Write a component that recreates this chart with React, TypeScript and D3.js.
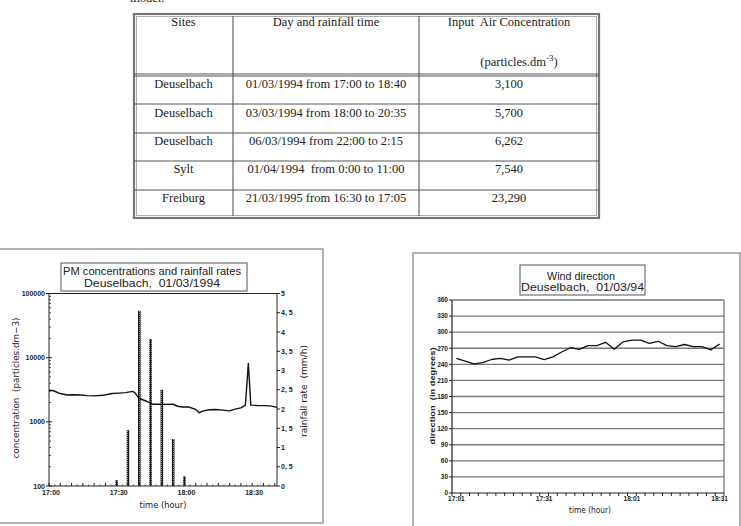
import React from 'react';
import * as d3 from 'd3';

// ---------- Table data ----------
const tableHeaders = ['Sites', 'Day and rainfall time', 'Input  Air Concentration'];
const sites = ['Deuselbach', 'Deuselbach', 'Deuselbach', 'Sylt', 'Freiburg'];
const rainfallPeriods = [
  '01/03/1994 from 17:00 to 18:40',
  '03/03/1994 from 18:00 to 20:35',
  '06/03/1994 from 22:00 to 2:15',
  '01/04/1994  from 0:00 to 11:00',
  '21/03/1995 from 16:30 to 17:05',
];
const airConcentrations = ['3,100', '5,700', '6,262', '7,540', '23,290'];

// ---------- Left chart data (minutes after 17:00) ----------
const concMinutes = [0, 2, 5, 8, 11, 14, 17, 20, 24, 28, 31, 34, 37, 38, 40, 43, 46, 49, 52, 55, 57, 59, 62, 65, 66.5, 68, 71, 74, 77, 80, 82, 85, 87, 88.3, 89.4, 92, 95, 98, 101];
const concValues = [3100, 3050, 2760, 2620, 2640, 2620, 2560, 2540, 2590, 2760, 2800, 2850, 2980, 2850, 2310, 2110, 1880, 1880, 1870, 1880, 1750, 1700, 1700, 1560, 1380, 1470, 1540, 1560, 1520, 1480, 1560, 1650, 1820, 8100, 1820, 1800, 1790, 1770, 1680];
const rainMinutes = [30, 35, 40, 45, 50, 55, 60];
const rainValues = [0.15, 1.45, 4.55, 3.82, 2.5, 1.22, 0.25];
const timeTickMinutes = [0, 30, 60, 90];
const timeTickLabels = ['17:00', '17:30', '18:00', '18:30'];
const concTicks = [100, 1000, 10000, 100000];
const concTickLabels = ['100', '1000', '10000', '100000'];
const rainTicks = [0, 0.5, 1, 1.5, 2, 2.5, 3, 3.5, 4, 4.5, 5];
const rainTickLabels = ['0', '0, 5', '1', '1, 5', '2', '2, 5', '3', '3, 5', '4', '4, 5', '5'];

// ---------- Right chart data ----------
const windTimes = ['17:01', '17:04', '17:07', '17:10', '17:13', '17:16', '17:19', '17:22', '17:25', '17:28', '17:31', '17:34', '17:37', '17:40', '17:43', '17:46', '17:49', '17:52', '17:55', '17:58', '18:01', '18:04', '18:07', '18:10', '18:13', '18:16', '18:19', '18:22', '18:25', '18:28', '18:31'];
const windValues = [251, 246, 241, 243, 249, 251, 248, 254, 254, 254, 249, 254, 263, 271, 268, 275, 275, 281, 268, 282, 285, 285, 279, 283, 275, 273, 277, 273, 273, 267, 278];
const windTicks = [0, 30, 60, 90, 120, 150, 180, 210, 240, 270, 300, 330, 360];
const windLabelTimes = ['17:01', '17:31', '18:01', '18:31'];

const SANS = 'Liberation Sans, Arial, sans-serif';

function Table() {
  const x0 = 134, x1 = 233, x2 = 419, x3 = 599;
  const top = 14, headBottom = 75;
  const rowLines = [104, 133, 161, 190];
  const bottom = 218;
  const baselines = [87.5, 116.5, 144.5, 173, 201.5];
  const cx = [(x0 + x1) / 2, (x1 + x2) / 2, (x2 + x3) / 2];
  const txt = { fontFamily: 'Liberation Serif, Times New Roman, serif', fontSize: 12.5, fill: '#222', whiteSpace: 'pre' as const };
  return (
    <g>
      <text x={130} y={2} style={txt}>model.</text>
      <rect x={x0} y={top} width={x3 - x0} height={bottom - top} fill="none" stroke="#777" strokeWidth={2.2} />
      <rect x={x0 + 2.5} y={top + 2.5} width={x3 - x0 - 5} height={bottom - top - 5} fill="none" stroke="#999" strokeWidth={0.8} />
      <line x1={x1} x2={x1} y1={top + 2} y2={bottom - 2} stroke="#444" strokeWidth={1} />
      <line x1={x2} x2={x2} y1={top + 2} y2={bottom - 2} stroke="#444" strokeWidth={1} />
      <line x1={x0} x2={x3} y1={headBottom - 1} y2={headBottom - 1} stroke="#555" strokeWidth={1} />
      <line x1={x0} x2={x3} y1={headBottom + 1} y2={headBottom + 1} stroke="#555" strokeWidth={1} />
      {rowLines.map((y, i) => (
        <line key={i} x1={x0} x2={x3} y1={y} y2={y} stroke="#555" strokeWidth={1} />
      ))}
      {tableHeaders.map((h, i) => (
        <text key={h} x={cx[i]} y={26} textAnchor="middle" style={txt}>{h}</text>
      ))}
      <text x={cx[2] + 10} y={65.5} textAnchor="middle" style={txt}>
        (particles.dm<tspan dy={-5} fontSize={9}>-3</tspan><tspan dy={5}>)</tspan>
      </text>
      {sites.map((s, i) => (
        <g key={i}>
          <text x={cx[0]} y={baselines[i]} textAnchor="middle" style={txt}>{s}</text>
          <text x={cx[1]} y={baselines[i]} textAnchor="middle" style={txt}>{rainfallPeriods[i]}</text>
          <text x={cx[2]} y={baselines[i]} textAnchor="middle" style={txt}>{airConcentrations[i]}</text>
        </g>
      ))}
    </g>
  );
}

function LeftChart() {
  const L = 49, R = 277, T = 293.5, B = 486;
  const x = d3.scaleLinear().domain([0, 101]).range([L, R]);
  const yC = d3.scaleLog().domain([100, 100000]).range([B, T]);
  const yR = d3.scaleLinear().domain([0, 5]).range([B, T]);
  const line = d3.line<number>().x((_, i) => x(concMinutes[i])).y(d => yC(d));
  const minor: number[] = [];
  for (let e = 100; e < 100000; e *= 10) for (let m = 2; m <= 9; m++) minor.push(e * m);
  const xTicks5 = d3.range(0, 101, 5);
  const xTicks25 = d3.range(2.5, 101, 5);
  const tick = { fontFamily: SANS, fontSize: 7, fontWeight: 700, fill: '#222' };
  const lab = { fontFamily: 'DejaVu Sans, sans-serif', fontSize: 9, fill: '#222' };
  return (
    <g>
      <defs>
        <pattern id="barDots" width={2} height={2} patternUnits="userSpaceOnUse">
          <rect width={2} height={2} fill="#1a1a1a" />
          <rect x={1} y={1} width={1} height={1} fill="#999" />
        </pattern>
      </defs>
      <rect x={-5} y={249} width={328} height={274} fill="none" stroke="#999" strokeWidth={1.5} />
      {/* title box */}
      <rect x={61} y={263} width={186} height={28} fill="#fff" stroke="#555" strokeWidth={1} />
      <text x={152} y={274.5} textAnchor="middle" textLength={178} lengthAdjust="spacingAndGlyphs" style={{ fontFamily: SANS, fontSize: 11, fill: '#222' }}>PM concentrations and rainfall rates</text>
      <text x={152} y={286.5} textAnchor="middle" textLength={136} lengthAdjust="spacingAndGlyphs" style={{ fontFamily: SANS, fontSize: 11, fill: '#222', whiteSpace: 'pre' }}>Deuselbach,  01/03/1994</text>
      {/* bars */}
      {rainValues.map((v, i) => (
        <rect key={i} x={x(rainMinutes[i]) - 1.3} y={yR(v)} width={2.6} height={B - yR(v)} fill="url(#barDots)" />
      ))}
      {/* axes */}
      <line x1={L} x2={L} y1={T} y2={B} stroke="#222" strokeWidth={1} />
      <line x1={R} x2={R} y1={T} y2={B} stroke="#222" strokeWidth={1} />
      <line x1={L} x2={R} y1={B} y2={B} stroke="#222" strokeWidth={1} />
      <line x1={L} x2={R} y1={T} y2={T} stroke="#222" strokeWidth={1} />
      {concTicks.map((t, i) => (
        <g key={t}>
          <line x1={L - 3} x2={L + 3} y1={yC(t)} y2={yC(t)} stroke="#222" />
          <text x={L - 4} y={yC(t) + 2.5} textAnchor="end" style={tick}>{concTickLabels[i]}</text>
        </g>
      ))}
      {minor.map(t => (
        <line key={t} x1={L} x2={L + 2} y1={yC(t)} y2={yC(t)} stroke="#222" strokeWidth={0.8} />
      ))}
      {rainTicks.map((t, i) => (
        <g key={t}>
          <line x1={R} x2={R + 3} y1={yR(t)} y2={yR(t)} stroke="#222" />
          <text x={R + 4} y={yR(t) + 2.5} style={tick}>{rainTickLabels[i]}</text>
        </g>
      ))}
      {xTicks5.map(t => (
        <line key={t} x1={x(t)} x2={x(t)} y1={B} y2={B - 3} stroke="#222" />
      ))}
      {xTicks25.map(t => (
        <line key={t} x1={x(t)} x2={x(t)} y1={B} y2={B - 1.5} stroke="#222" strokeWidth={0.8} />
      ))}
      {timeTickMinutes.map((t, i) => (
        <text key={t} x={x(t) + 2} y={494.5} textAnchor="middle" style={tick}>{timeTickLabels[i]}</text>
      ))}
      {/* concentration line */}
      <path d={line(concValues) || ''} fill="none" stroke="#111" strokeWidth={1.4} strokeLinejoin="round" />
      {/* axis labels */}
      <text x={163} y={508} textAnchor="middle" textLength={47} lengthAdjust="spacingAndGlyphs" style={lab}>time (hour)</text>
      <text transform="translate(19,388) rotate(-90)" textAnchor="middle" textLength={141} lengthAdjust="spacingAndGlyphs" style={{ ...lab, whiteSpace: 'pre' }}>concentration  (particles.dm−3)</text>
      <text transform="translate(307,391) rotate(-90)" textAnchor="middle" textLength={92} lengthAdjust="spacingAndGlyphs" style={{ ...lab, whiteSpace: 'pre' }}>rainfall rate  (mm/h)</text>
    </g>
  );
}

function RightChart() {
  const L = 452, R = 724, T = 300, B = 493;
  const x = d3.scalePoint<string>().domain(windTimes).range([L, R]).padding(0.5);
  const y = d3.scaleLinear().domain([0, 360]).range([B, T]);
  const step = x.step();
  const line = d3.line<number>().x((_, i) => x(windTimes[i]) as number).y(d => y(d));
  const tick = { fontFamily: SANS, fontSize: 6.5, fontWeight: 700, fill: '#222' };
  return (
    <g>
      <rect x={413} y={253} width={327} height={280} fill="none" stroke="#999" strokeWidth={1.5} />
      {/* gridlines */}
      {windTicks.filter(t => t > 0).map(t => (
        <line key={t} x1={L} x2={R} y1={y(t)} y2={y(t)} stroke="#777" strokeWidth={1.3} />
      ))}
      <line x1={R} x2={R} y1={T} y2={B} stroke="#777" strokeWidth={1.3} />
      {/* axes */}
      <line x1={L} x2={L} y1={T} y2={B} stroke="#222" strokeWidth={1.2} />
      <line x1={L} x2={R} y1={B} y2={B} stroke="#222" strokeWidth={1.2} />
      {windTicks.map(t => (
        <g key={t}>
          <line x1={L - 3} x2={L} y1={y(t)} y2={y(t)} stroke="#222" />
          <text x={L - 4} y={y(t) + 2.3} textAnchor="end" style={tick}>{t}</text>
        </g>
      ))}
      {windTimes.map((c, i) => (
        <line key={c} x1={L + step * i} x2={L + step * i} y1={B} y2={B + 3} stroke="#222" />
      ))}
      <line x1={R} x2={R} y1={B} y2={B + 3} stroke="#222" />
      {windLabelTimes.map(c => (
        <text key={c} x={x(c) as number} y={500.5} textAnchor="middle" style={tick}>{c}</text>
      ))}
      <path d={line(windValues) || ''} fill="none" stroke="#111" strokeWidth={1.3} strokeLinejoin="round" />
      {/* title box */}
      <rect x={520} y={265} width={125} height={30} fill="#fff" stroke="#555" strokeWidth={1} />
      <text x={581} y={279.5} textAnchor="middle" textLength={68} lengthAdjust="spacingAndGlyphs" style={{ fontFamily: SANS, fontSize: 11.5, fill: '#222' }}>Wind direction</text>
      <text x={582.5} y={291} textAnchor="middle" textLength={123} lengthAdjust="spacingAndGlyphs" style={{ fontFamily: SANS, fontSize: 11.5, fill: '#222', whiteSpace: 'pre' }}>Deuselbach,  01/03/94</text>
      {/* axis labels */}
      <text x={590} y={513} textAnchor="middle" textLength={42} lengthAdjust="spacingAndGlyphs" style={{ fontFamily: 'DejaVu Sans, sans-serif', fontSize: 8.5, fill: '#222' }}>time (hour)</text>
      <text transform="translate(435,396) rotate(-90)" textAnchor="middle" textLength={97} lengthAdjust="spacingAndGlyphs" style={{ fontFamily: SANS, fontSize: 8, fontWeight: 700, fill: '#222', whiteSpace: 'pre' }}>direction  (in degrees)</text>
    </g>
  );
}

export default function App() {
  return (
    <svg width={741} height={526} style={{ position: 'absolute', left: 0, top: 0, background: '#fff' }}>
      <rect x={0} y={0} width={741} height={526} fill="#fff" />
      <Table />
      <LeftChart />
      <RightChart />
    </svg>
  );
}
